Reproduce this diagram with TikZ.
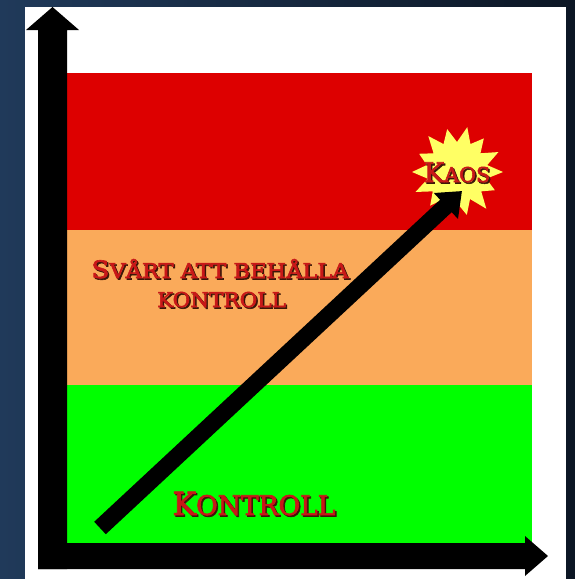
\documentclass[tikz,border=0pt]{standalone}
\usepackage{fontspec}
\usetikzlibrary{arrows.meta}
\newfontfamily\slab{DejaVu Serif}[FakeBold=2.6]
\definecolor{bgL}{RGB}{32,58,90}
\definecolor{bgR}{RGB}{12,22,36}
\definecolor{bandred}{RGB}{221,0,0}
\definecolor{bandorange}{RGB}{250,170,90}
\definecolor{bandgreen}{RGB}{0,255,0}
\definecolor{starY}{RGB}{255,255,100}
\definecolor{txtred}{RGB}{200,24,24}
\definecolor{txtsh}{RGB}{60,22,8}
\newcommand\fsc[5]{\scalebox{#1}[1]{\slab{\fontsize{#2}{#2}\selectfont #3}{\fontsize{#4}{#4}\selectfont #5}}}
\begin{document}
\begin{tikzpicture}[x=1pt,y=-1pt,
  axisarrow/.style={fill=black},
  diag/.style={line width=17pt,-{Triangle[length=22pt,width=34pt]}},
  lbl/.style={anchor=base,inner sep=0pt,text=txtred,align=center},
  shd/.style={anchor=base,inner sep=0pt,text=txtsh,align=center}]
\useasboundingbox (0,0) rectangle (575,579);
% background
\shade[left color=bgL,right color=bgR] (0,0) rectangle (575,579);
\fill[white] (25,7) rectangle (566,579);
% bands
\fill[bandred]    (67,73)  rectangle (532,230);
\fill[bandorange] (67,230) rectangle (532,385);
\fill[bandgreen]  (67,385) rectangle (532,543);
% axes
\fill[axisarrow] (38,569) -- (38,30) -- (26,30) -- (52.5,7) -- (79,30) -- (67,30) -- (67,569) -- cycle;
\fill[axisarrow] (38,543) -- (525,543) -- (525,536) -- (548,556) -- (525,576) -- (525,569) -- (38,569) -- cycle;
% star
\coordinate (kaosc) at (457,172);
\begin{scope}[shift={(kaosc)}]
\fill[starY] (0:46)
  -- (12.9:30) -- (25.7:42) -- (38.6:31) -- (51.4:47) -- (64.3:30) -- (77.1:44)
  -- (90:31) -- (102.9:46) -- (115.7:30) -- (128.6:43) -- (141.4:31) -- (154.3:46)
  -- (167.1:30) -- (180:45) -- (192.9:31) -- (205.7:42) -- (218.6:30) -- (231.4:46)
  -- (244.3:31) -- (257.1:44) -- (270:30) -- (282.9:46) -- (295.7:31) -- (308.6:43)
  -- (321.4:30) -- (334.3:46) -- (347.1:31) -- cycle;
\end{scope}
% diagonal arrow
\coordinate (d0) at (100,528);
\coordinate (d1) at (462,191);
\draw[diag] (d0) -- (d1);
% labels
\node[shd] (kaoss) at (458.5,183.5) {\fsc{1.01}{27pt}{K}{20.5pt}{AOS}};
\node[lbl] (kaos) at (457,182) {\fsc{1.01}{27pt}{K}{20.5pt}{AOS}};
\node[shd] (svs) at (221.5,279.5) {\fsc{1.10}{24pt}{S}{20.5pt}{VÅRT ATT BEHÅLLA}};
\node[lbl] (sv) at (220,278) {\fsc{1.10}{24pt}{S}{20.5pt}{VÅRT ATT BEHÅLLA}};
\node[shd] (kos) at (223,308.5) {\fsc{1.05}{20.5pt}{}{20.5pt}{KONTROLL}};
\node[lbl] (ko) at (221.5,307) {\fsc{1.05}{20.5pt}{}{20.5pt}{KONTROLL}};
\node[shd] (kons) at (255.5,516.5) {\fsc{0.98}{32pt}{K}{27pt}{ONTROLL}};
\node[lbl] (kon) at (254,515) {\fsc{0.98}{32pt}{K}{27pt}{ONTROLL}};
\end{tikzpicture}
\end{document}
